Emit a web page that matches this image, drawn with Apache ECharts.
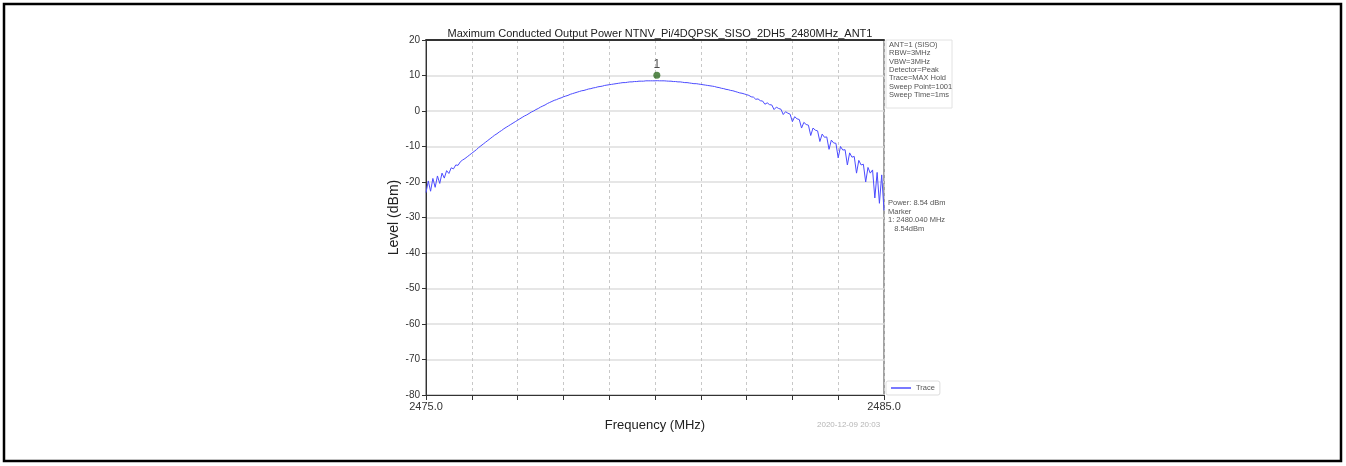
<!DOCTYPE html>
<html>
<head>
<meta charset="utf-8">
<script src="https://cdn.jsdelivr.net/npm/echarts@6/dist/echarts.min.js"></script>
<style>
html,body{margin:0;padding:0;background:#fff;}
#chart{width:1346px;height:466px;}
</style>
</head>
<body>
<div id="chart"></div>
<script>
// ---- data ----
const titleText = 'Maximum Conducted Output Power NTNV_Pi/4DQPSK_SISO_2DH5_2480MHz_ANT1';
const sweepStart = 2475.0;   // MHz
const sweepStop = 2485.0;    // MHz
const xTickLabels = ['2475.0', '2485.0'];
const yTicks = [20, 10, 0, -10, -20, -30, -40, -50, -60, -70, -80];
// trace levels (dBm), evenly spaced across the sweep (0.05 MHz apart)
const traceLevels = [
  -23.0,-19.7,-22.6,-19.0,-21.5,-18.3,-20.4,-17.5,-18.9,-16.8,-17.6,-16.0,-16.3,-15.2,-15.3,-14.3,
  -13.8,-13.4,-12.9,-12.4,-11.9,-11.4,-10.9,-10.3,-9.8,-9.3,-8.8,-8.3,-7.8,-7.3,-6.8,-6.4,-5.9,-5.5,-5.0,-4.6,-4.2,-3.8,-3.4,-3.0,-2.6,
  -2.2,-1.8,-1.4,-1.1,-0.7,-0.3,0.0,0.4,0.7,1.1,1.4,1.7,2.1,2.4,2.7,3.0,3.2,3.5,3.7,4.0,
  4.2,4.4,4.7,4.9,5.1,5.3,5.5,5.7,5.8,6.0,6.2,6.3,6.5,6.6,6.8,6.9,7.0,7.2,7.3,7.4,
  7.5,7.6,7.7,7.8,7.9,8.0,8.0,8.1,8.2,8.2,8.3,8.3,8.4,8.4,8.4,8.5,8.5,8.5,8.5,8.5,
  8.54,8.5,8.5,8.5,8.45,8.4,8.4,8.3,8.3,8.2,8.2,8.1,8.0,8.0,7.9,7.8,7.7,7.7,7.6,7.5,
  7.4,7.3,7.2,7.1,7.0,6.9,6.7,6.6,6.4,6.3,6.1,6.0,5.8,5.7,5.5,5.3,5.1,5.0,4.8,4.6,
  4.4,4.0,3.9,3.3,3.4,2.9,2.8,1.9,2.3,1.8,1.7,0.4,1.1,0.7,0.5,-1.0,-0.2,-0.6,-0.9,-3.0,
  -1.6,-2.2,-2.4,-4.8,-3.2,-3.8,-4.0,-6.9,-4.8,-5.4,-5.6,-8.6,-6.5,-7.4,-7.3,-10.8,-8.2,-9.0,-9.1,-13.2,
  -10.0,-11.0,-10.9,-15.2,-11.8,-13.0,-12.8,-17.5,-13.9,-15.2,-15.0,-20.0,-15.9,-17.5,-16.6,-24.5,-17.3,-26.0,-18.0,-28.0
];
const markerFreq = 2480.04;
const markerLevel = 8.54;
const settingsLines = ['ANT=1 (SISO)', 'RBW=3MHz', 'VBW=3MHz', 'Detector=Peak', 'Trace=MAX Hold', 'Sweep Point=1001', 'Sweep Time=1ms'];
const markerLines = ['Power: 8.54 dBm', 'Marker', '1: 2480.040 MHz', '   8.54dBm'];
const timestamp = '2020-12-09 20:03';

// ---- build ----
const stepMHz = (sweepStop - sweepStart) / (traceLevels.length - 1);
const traceData = traceLevels.map((v, i) => [sweepStart + i * stepMHz, v]);

const FONT = 'Liberation Sans, Arial, sans-serif';
const chart = echarts.init(document.getElementById('chart'), null, {renderer: 'canvas'});

const graphics = [
  {type: 'rect', shape: {x: 4, y: 4, width: 1337, height: 457}, style: {fill: 'none', stroke: '#000', lineWidth: 2.5}, silent: true},
  {type: 'rect', shape: {x: 886, y: 40, width: 66, height: 68}, style: {fill: '#fff', stroke: '#e2e2e2', lineWidth: 1}, silent: true},
  {type: 'text', x: 817, y: 421, style: {text: timestamp, fill: '#b5b5b5', font: '8px ' + FONT}, silent: true}
];
settingsLines.forEach((t, i) => graphics.push({type: 'text', x: 889, y: 41 + i * 8.3, style: {text: t, fill: '#555', font: '7.5px ' + FONT}, silent: true}));
markerLines.forEach((t, i) => graphics.push({type: 'text', x: 888, y: 199 + i * 8.5, style: {text: t, fill: '#555', font: '7.5px ' + FONT}, silent: true}));

chart.setOption({
  animation: false,
  backgroundColor: '#fff',
  textStyle: {fontFamily: FONT},
  title: {
    text: titleText, left: 655, textAlign: 'center', top: 23,
    textStyle: {fontSize: 11, fontWeight: 'normal', color: '#222', fontFamily: FONT}
  },
  grid: {left: 426, right: 462, top: 40, bottom: 71, show: true, borderColor: '#444', borderWidth: 1},
  legend: {
    data: [{name: 'Trace', icon: 'rect'}],
    left: 886, top: 381, itemWidth: 20, itemHeight: 1.5, itemGap: 4,
    padding: [3, 5], borderColor: '#ddd', borderWidth: 1, borderRadius: 2,
    textStyle: {fontSize: 7.5, color: '#555', fontFamily: FONT}
  },
  xAxis: [{
    type: 'value', min: sweepStart, max: sweepStop, interval: 1,
    name: 'Frequency (MHz)', nameLocation: 'middle', nameGap: 24,
    nameTextStyle: {fontSize: 13, color: '#222', fontFamily: FONT},
    axisLine: {show: true, onZero: false, lineStyle: {color: '#333', width: 1}},
    axisTick: {show: true, inside: false, length: 5, lineStyle: {color: '#333'}},
    axisLabel: {
      fontSize: 11, color: '#333', margin: 6, showMinLabel: true, showMaxLabel: true,
      formatter: v => (Math.abs(v - sweepStart) < 1e-6 ? xTickLabels[0] : (Math.abs(v - sweepStop) < 1e-6 ? xTickLabels[1] : ''))
    },
    splitLine: {show: true, lineStyle: {color: '#c8c8c8', type: [3, 3], width: 1}}
  }, {
    type: 'value', position: 'top', min: sweepStart, max: sweepStop,
    axisLine: {show: true, onZero: false, lineStyle: {color: '#333', width: 2}},
    axisTick: {show: false}, axisLabel: {show: false}, splitLine: {show: false}
  }],
  yAxis: {
    type: 'value', min: yTicks[yTicks.length - 1], max: yTicks[0], interval: 10,
    name: 'Level (dBm)', nameLocation: 'middle', nameGap: 25,
    nameTextStyle: {fontSize: 14, color: '#222', fontFamily: FONT},
    axisLine: {show: true, lineStyle: {color: '#333', width: 1}},
    axisTick: {show: true, length: 4, lineStyle: {color: '#333'}},
    axisLabel: {fontSize: 10, color: '#333', margin: 6},
    splitLine: {show: true, lineStyle: {color: '#dedede', width: 1.5}}
  },
  series: [{
    name: 'Trace', type: 'line', data: traceData, showSymbol: false, symbol: 'none',
    lineStyle: {color: '#4c4cff', width: 1}, itemStyle: {color: '#4c4cff'}
  }, {
    name: 'M1', type: 'scatter', data: [[markerFreq, markerLevel]],
    symbol: 'circle', symbolSize: 7, symbolOffset: [0, -5.5],
    itemStyle: {color: '#2f6b22'},
    label: {show: true, position: 'top', distance: 1, formatter: '1', fontSize: 12, color: '#222', fontFamily: FONT}
  }],
  graphic: graphics
});
</script>
</body>
</html>
